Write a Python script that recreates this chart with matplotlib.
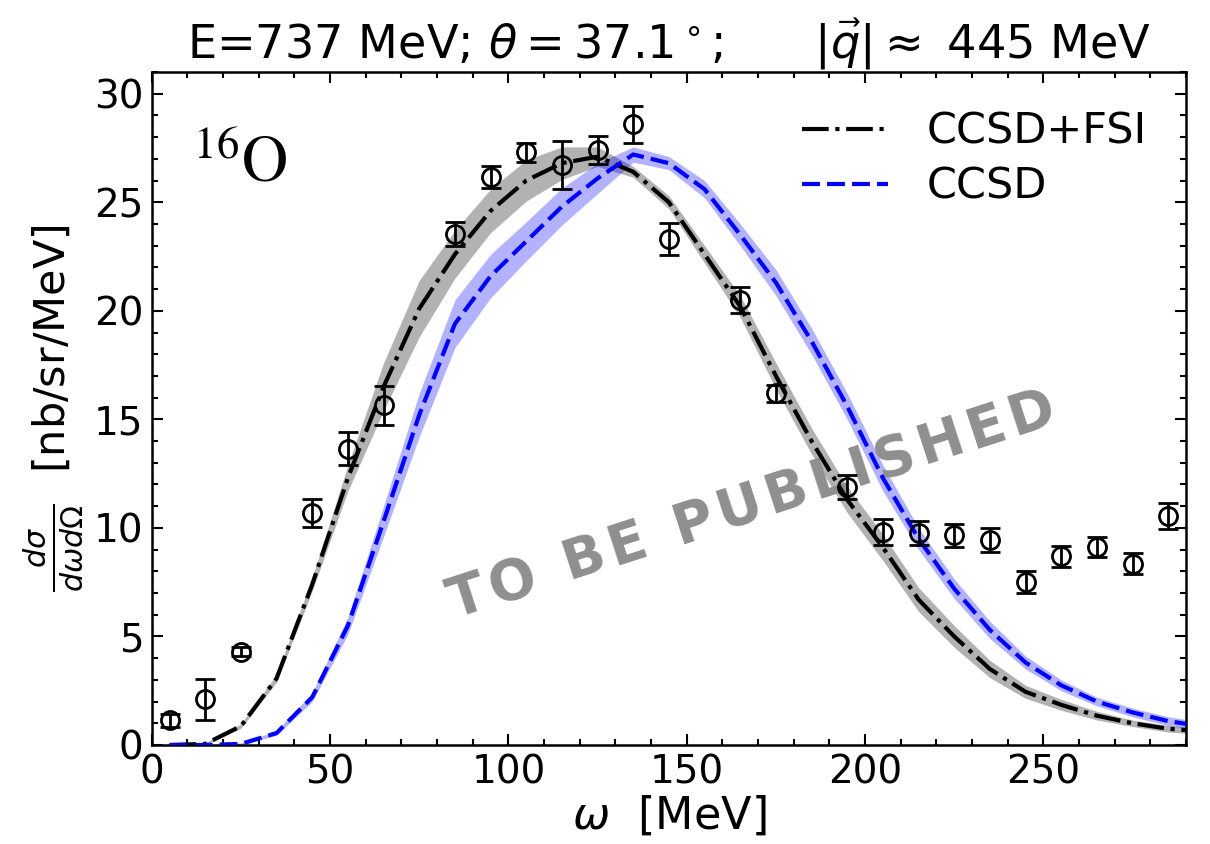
import matplotlib
matplotlib.use("Agg")
import matplotlib.pyplot as plt
import numpy as np
from matplotlib.ticker import MultipleLocator

# experimental points
omega_exp = [5, 15, 25, 45, 55, 65, 85, 95, 105, 115, 125, 135, 145, 165, 175,
             195, 205, 215, 225, 235, 245, 255, 265, 275, 285]
xsec_exp = [1.15, 2.1, 4.3, 10.7, 13.65, 15.65, 23.55, 26.15, 27.3, 26.7, 27.4, 28.6,
            23.3, 20.5, 16.2, 11.9, 9.8, 9.75, 9.65, 9.45, 7.5, 8.7, 9.1, 8.35, 10.55]
err_exp = [0.3, 0.95, 0.2, 0.65, 0.75, 0.9, 0.55, 0.5, 0.45, 1.1, 0.65, 0.85, 0.75,
           0.6, 0.4, 0.55, 0.6, 0.55, 0.55, 0.55, 0.5, 0.48, 0.46, 0.48, 0.6]

# theory grid
omega_th = [5, 15, 25, 35, 45, 55, 65, 75, 85, 95, 105, 115, 125, 135, 145,
            155, 165, 175, 185, 195, 205, 215, 225, 235, 245, 255, 265, 275, 285, 295]

# CCSD+FSI
fsi = [0.0, 0.05, 0.87, 3.07, 7.4, 12.3, 16.5, 20.1, 22.6, 24.6, 26.0, 26.8, 27.1, 26.4, 25.0,
       22.6, 20.2, 17.0, 14.0, 11.3, 9.1, 6.7, 5.0, 3.5, 2.45, 1.85, 1.35, 1.0, 0.75, 0.62]
fsi_lo = [0.0, 0.0, 0.77, 2.9, 7.1, 11.7, 15.4, 18.8, 21.5, 23.6, 25.05, 26.05, 26.65, 26.15, 24.7,
          22.2, 19.7, 16.4, 13.4, 10.7, 8.5, 6.15, 4.5, 3.1, 2.15, 1.6, 1.15, 0.85, 0.6, 0.47]
fsi_hi = [0.0, 0.1, 0.97, 3.25, 7.7, 12.9, 17.6, 21.4, 23.7, 25.6, 26.95, 27.55, 27.55, 26.65, 25.3,
          23.0, 20.7, 17.6, 14.6, 11.9, 9.7, 7.25, 5.5, 3.9, 2.75, 2.1, 1.55, 1.15, 0.9, 0.77]

# CCSD
ccsd = [0.0, 0.0, 0.05, 0.55, 2.2, 5.5, 10.3, 15.2, 19.4, 21.6, 23.2, 24.8, 26.1, 27.2, 26.8,
        25.6, 23.5, 21.3, 18.6, 15.6, 12.3, 9.5, 7.2, 5.3, 3.8, 2.75, 2.0, 1.5, 1.1, 0.85]
ccsd_lo = [0.0, 0.0, 0.0, 0.45, 2.0, 5.1, 9.6, 14.2, 18.3, 20.6, 22.3, 23.95, 25.4, 26.85, 26.5,
           25.2, 23.0, 20.7, 18.0, 15.0, 11.7, 9.0, 6.75, 4.9, 3.5, 2.5, 1.8, 1.3, 0.9, 0.65]
ccsd_hi = [0.0, 0.0, 0.1, 0.65, 2.4, 5.9, 11.0, 16.2, 20.5, 22.6, 24.1, 25.65, 26.8, 27.55, 27.1,
           26.0, 24.0, 21.9, 19.2, 16.2, 12.9, 10.0, 7.65, 5.7, 4.1, 3.0, 2.2, 1.7, 1.3, 1.05]

fig = plt.figure(figsize=(12.1, 8.44), dpi=100)
ax = fig.add_axes([0.1254, 0.1173, 0.8548, 0.7974])

ax.fill_between(omega_th, fsi_lo, fsi_hi, color="gray", alpha=0.6, lw=0, zorder=1)
ax.fill_between(omega_th, ccsd_lo, ccsd_hi, color="blue", alpha=0.3, lw=0, zorder=1.1)
ax.plot(omega_th, fsi, color="black", ls=(0, (6.4, 1.6, 1, 1.6)), lw=3, label="CCSD+FSI", zorder=3)
ax.plot(omega_th, ccsd, color="blue", ls=(0, (4.3, 1.7)), lw=3, label="CCSD", zorder=3)
ax.errorbar(omega_exp, xsec_exp, yerr=err_exp, fmt="o", mfc="none", mec="black", ecolor="black",
            ms=13, mew=2, elinewidth=2, capsize=7, capthick=2, zorder=4)

# watermark, letters spread with hair spaces
ax.text(0.58, 0.355, "\u200a".join("TO BE PUBLISHED"), transform=ax.transAxes,
        fontsize=40, fontweight="bold", color="#8f8f8f", rotation=18,
        ha="center", va="center", rotation_mode="anchor", zorder=2)

ax.text(0.04, 0.837, r"$^{16}\mathrm{O}$", transform=ax.transAxes, fontsize=46,
        math_fontfamily="stix", ha="left", va="baseline")

ax.set_xlim(0, 290)
ax.set_ylim(0, 31)
ax.xaxis.set_major_locator(MultipleLocator(50))
ax.xaxis.set_minor_locator(MultipleLocator(10))
ax.yaxis.set_major_locator(MultipleLocator(5))
ax.yaxis.set_minor_locator(MultipleLocator(1))
ax.tick_params(which="both", direction="in", top=True, right=True, width=1.5, labelsize=28)
ax.tick_params(which="major", length=8, pad=6)
ax.tick_params(which="minor", length=4.5)
for s in ax.spines.values():
    s.set_linewidth(1.8)

ax.set_xlabel(r"$\omega$  [MeV]", fontsize=32, labelpad=2)
ax.set_ylabel(r"$\frac{d\sigma}{d\omega d\Omega}$  [nb/sr/MeV]", fontsize=31, labelpad=6)
title = ax.set_title(r"E=737 MeV; $\theta=37.1^\circ$;      $|\vec{q}|\approx$ 445 MeV",
                     fontsize=29, pad=9)

ax.legend(loc="upper right", frameon=False, fontsize=31, handlelength=2.0, handletextpad=0.9,
          borderaxespad=0.5, labelspacing=0.3)

# fit title width to the reference
fig.canvas.draw()
w = title.get_window_extent(fig.canvas.get_renderer()).width
title.set_fontsize(29 * 965 / w)

fig.savefig("out.png", dpi=100)
